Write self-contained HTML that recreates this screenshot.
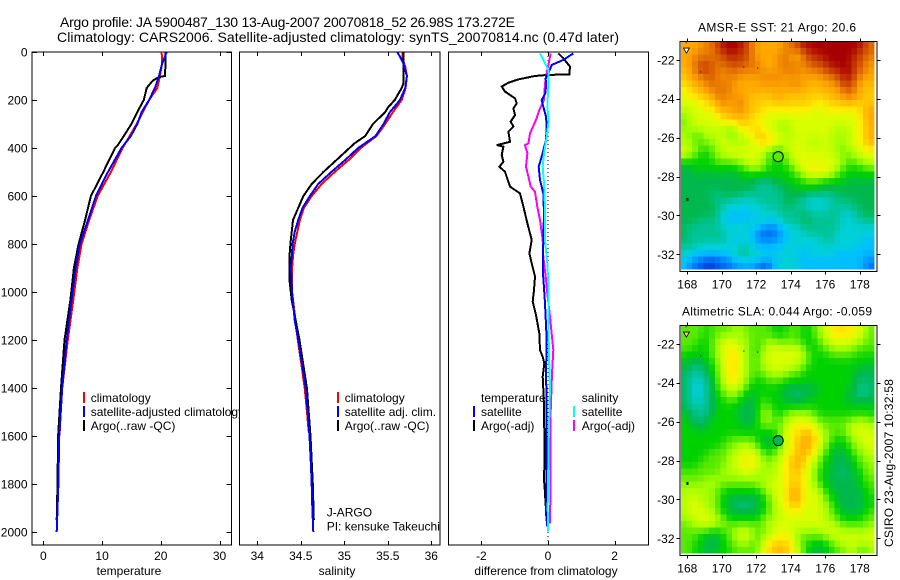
<!DOCTYPE html>
<html lang="en">
<head>
<meta charset="utf-8">
<title>Argo profile</title>
<style>
html,body{margin:0;padding:0;background:#fff;}
svg{display:block;}
text{font-family:"Liberation Sans",sans-serif;font-size:12px;fill:#000;}
</style>
</head>
<body>
<svg id="chart" xmlns="http://www.w3.org/2000/svg" width="900" height="580" viewBox="0 0 900 580"></svg>
<script>
// ---------- Axis tick data ----------
var depthTicks = [0,200,400,600,800,1000,1200,1400,1600,1800,2000];
var tempTicks = [0,10,20,30];
var salTicks = [34,34.5,35,35.5,36];
var diffTicks = [-2,0,2];
var lonTicks = [168,170,172,174,176,178];
var latTicks = [-22,-24,-26,-28,-30,-32];

// ---------- Temperature profile ----------
var tempClimDepth = [0,50,100,150,200,300,400,500,600,700,800,900,1033,1200,1400,1520,1600];
var tempClim = [20.15,20.2,19.85,19.4,18.0,15.9,13.5,11.5,9.25,7.8,6.5,5.8,5.1,4.15,3.2,2.92,2.75];
var tempSatDepth = [0,50,100,150,200,250,300,350,400,500,600,700,800,900,1033,1200,1400,1600,1800,2000];
var tempSat = [21.0,20.2,19.7,19.0,18.0,16.75,16.0,14.9,13.3,11.0,8.95,7.6,6.2,5.5,4.8,3.97,3.2,2.7,2.55,2.27];
var tempArgoDepth = [0,50,100,105,120,150,200,250,300,350,390,400,500,600,700,800,900,1033,1200,1400,1600,1800,1950];
var tempArgo = [20.8,20.8,20.7,19.6,18.6,17.6,17.1,16.0,15.0,13.7,12.6,12.2,10.2,8.1,7.1,6.0,5.2,4.6,3.6,3.0,2.5,2.4,2.27];

// ---------- Salinity profile ----------
var salClimDepth = [0,30,60,100,150,200,250,300,350,400,450,500,550,600,650,700,750,800,850,900,1000,1200,1311,1400,1505,1580];
var salClim = [35.67,35.67,35.70,35.72,35.705,35.66,35.56,35.47,35.37,35.19,35.05,34.89,34.74,34.625,34.535,34.49,34.46,34.43,34.41,34.40,34.40,34.465,34.51,34.545,34.572,34.59];
var salSatDepth = [0,20,50,100,150,200,250,300,350,400,450,500,550,600,650,700,750,800,900,1000,1117,1200,1311,1400,1505,1600,1728,1800,1895,2000];
var salSat = [35.61,35.64,35.68,35.72,35.70,35.64,35.525,35.45,35.36,35.16,35.01,34.85,34.70,34.605,34.52,34.47,34.43,34.406,34.387,34.40,34.43,34.47,34.52,34.555,34.58,34.6,34.617,34.625,34.632,34.644];
var salArgoDepth = [0,100,130,150,200,230,250,300,350,380,400,450,500,550,600,650,700,750,800,850,950,1033,1200,1400,1600,1800,1950];
var salArgo = [35.68,35.68,35.68,35.66,35.58,35.505,35.47,35.33,35.24,35.12,35.06,34.91,34.76,34.625,34.53,34.47,34.41,34.395,34.38,34.37,34.37,34.395,34.485,34.57,34.612,34.638,34.65];

// ---------- Differences from climatology ----------
var diffTempSatDepth = [6,33,54,89,110,144,172,200,228,269,311,367,436,478,533,589,672,783,922,1047,1200,1339,1478,1756,1922,1978];
var diffTempSat = [0.76,0.46,0.11,0.01,-0.07,-0.06,-0.08,-0.19,-0.14,-0.06,-0.04,-0.06,-0.19,-0.28,-0.24,-0.14,-0.12,-0.14,-0.15,-0.09,-0.04,-0.06,-0.04,-0.04,-0.06,-0.02];
var diffTempArgoDepth = [6,26,61,93,96,100,114,128,144,165,193,214,235,263,290,311,332,374,388,394,429,457,478,499,561,589,644,714,783,839,881,936,992,1040,1096,1172,1242,1270,1297,1353,1436,1519,1575,1672,1783,1818,1930];
var diffTempArgo = [0.31,0.46,0.66,0.64,-0.04,-0.4,-0.89,-1.19,-1.39,-1.29,-0.99,-0.94,-1.04,-0.99,-1.12,-1.04,-1.19,-1.14,-1.54,-1.34,-1.39,-1.34,-1.46,-1.29,-1.14,-0.84,-0.74,-0.62,-0.49,-0.56,-0.49,-0.39,-0.42,-0.46,-0.36,-0.26,-0.24,-0.16,-0.11,-0.16,-0.13,-0.12,-0.11,-0.10,-0.12,-0.10,-0.05];
var diffSalSatDepth = [6,47,75,144,228,283,353,422,478,547,644,783,881,992,1089,1270,1394,1617,1894,1998];
var diffSalSat = [-0.24,-0.09,0.01,0.01,-0.02,0.02,-0.04,-0.12,-0.16,-0.12,-0.09,-0.09,-0.02,0.02,0.01,0.03,0.06,0.02,-0.01,0];
var diffSalArgoDepth = [6,75,131,200,242,283,339,381,388,422,478,519,561,582,644,700,783,853,936,1006,1103,1200,1242,1339,1422,1547,1756,1964];
var diffSalArgo = [0.08,-0.02,-0.09,-0.12,-0.26,-0.36,-0.54,-0.59,-0.69,-0.62,-0.66,-0.59,-0.52,-0.39,-0.32,-0.24,-0.16,-0.14,-0.07,-0.02,0.06,0.13,0.16,0.12,0.1,0.07,0.08,0.06];

// ---------- Map colour levels (rows north to south) ----------
var mapPalette = ['#0030d0','#0060f0','#0090ff','#00bfff','#00d0d8','#00c496','#00b84c','#00d200','#58ea00','#a4ff00','#d8ff00','#ffee00','#ffca00','#ffa800','#e87a00','#c84000','#a80000'];
var sstLevels = [
[13,13,13,13,14,14,15,16,16,16,16,15,14,13,13,13,13,13,14,14,15,16,16,16,16,16,16,16,16,16,16,16,15,14],
[13,13,13,14,14,14,15,15,16,16,15,15,14,13,13,13,13,13,14,14,14,15,15,16,16,16,16,16,16,16,16,15,15,14],
[13,13,14,14,14,14,14,15,15,15,15,15,14,13,13,13,13,14,14,13,12,14,15,15,15,16,16,16,16,16,15,15,14,14],
[13,13,14,15,15,15,14,14,15,15,15,14,14,14,13,13,13,14,14,14,14,14,14,15,15,15,16,16,16,16,15,15,14,13],
[12,13,14,15,15,14,14,14,14,14,14,14,14,14,13,13,13,13,14,14,14,13,14,14,14,15,15,15,16,16,15,14,14,13],
[12,13,13,14,14,15,14,13,14,14,13,13,13,13,14,14,14,14,13,13,13,13,13,13,13,14,14,15,15,16,15,14,13,13],
[11,12,13,13,14,14,14,14,14,13,13,13,13,13,13,13,13,13,13,14,14,13,13,13,13,13,13,14,15,15,14,13,12,13],
[11,11,12,13,13,14,14,14,14,13,13,13,13,13,13,13,13,13,13,13,13,13,12,12,12,13,13,13,14,15,14,13,12,12],
[10,11,11,12,12,13,14,14,13,14,13,13,12,12,12,12,13,13,12,12,12,12,12,12,12,12,12,13,13,14,13,13,12,12],
[10,10,10,11,11,12,13,14,13,13,14,13,12,12,12,11,12,12,12,12,12,12,12,11,11,11,12,12,12,13,12,12,12,12],
[9,10,10,10,11,11,12,13,13,13,14,13,12,12,11,11,11,11,11,11,11,11,11,10,10,11,11,11,11,11,11,11,13,13],
[9,9,10,10,10,10,11,12,12,13,13,12,12,11,11,10,10,10,10,10,10,10,10,10,10,10,10,10,10,10,10,11,13,13],
[8,9,10,10,10,10,10,11,11,11,12,12,11,11,10,10,10,9,9,10,10,10,10,10,10,10,10,10,10,10,10,11,12,13],
[9,9,9,9,10,10,9,9,8,8,11,11,11,12,11,10,10,9,9,10,10,10,10,10,10,10,10,9,9,10,10,11,12,13],
[9,9,8,8,9,9,10,10,9,9,10,10,11,12,12,11,10,10,9,9,10,10,10,10,10,10,9,9,9,9,10,11,12,13],
[9,9,8,8,9,9,9,10,9,9,9,9,10,11,12,12,11,10,10,10,10,10,9,9,9,10,10,9,9,10,10,11,12,13],
[10,10,9,8,7,8,9,10,10,10,10,10,10,10,10,9,8,8,9,10,10,10,10,10,10,10,9,9,8,9,10,10,11,11],
[10,9,8,7,7,8,9,9,10,10,10,10,10,10,9,8,7,7,9,10,10,10,10,10,10,10,10,9,9,8,9,10,10,10],
[7,7,7,7,7,7,8,8,8,8,9,10,10,10,9,8,7,7,8,9,10,11,10,10,10,10,10,10,9,8,8,9,9,10],
[6,6,7,7,7,7,7,7,7,7,7,8,9,9,8,7,7,7,7,8,9,10,11,11,11,11,10,9,8,7,7,7,8,8],
[6,6,6,6,6,6,6,6,6,6,7,7,7,7,7,7,7,7,7,7,8,9,10,10,10,10,9,8,7,7,7,7,7,7],
[6,6,6,6,6,6,6,6,6,6,6,6,6,5,5,5,6,6,7,7,7,7,8,8,7,7,7,7,7,6,6,6,6,6],
[6,6,6,6,6,6,6,6,6,6,6,6,6,5,5,5,5,6,6,6,7,7,7,7,7,6,6,6,6,6,6,6,6,6],
[6,6,6,6,6,5,5,6,6,6,6,5,5,5,5,5,5,5,6,6,6,6,5,5,5,5,5,6,6,6,6,6,6,6],
[6,6,6,6,6,6,5,5,5,4,4,4,4,5,5,5,5,5,6,6,5,5,4,4,4,4,5,5,5,5,6,6,6,6],
[6,6,6,6,6,6,5,5,4,4,4,4,4,4,4,5,5,5,6,5,5,5,4,4,4,4,5,5,5,5,5,6,6,6],
[6,6,6,6,6,6,5,4,3,3,3,3,3,4,4,4,4,5,5,5,5,6,5,5,5,5,5,5,4,4,5,5,6,6],
[6,6,6,5,5,5,5,4,3,3,3,3,4,4,4,4,3,4,5,5,5,6,6,5,5,5,5,5,4,4,4,5,5,5],
[6,5,5,5,5,5,5,4,4,4,5,4,4,3,2,2,2,3,4,4,4,5,5,5,5,5,5,5,4,4,4,4,4,4],
[6,5,5,5,5,5,5,5,4,4,4,4,3,2,1,1,1,2,3,4,4,4,5,5,5,5,5,4,4,4,4,4,4,4],
[6,5,5,5,5,5,5,5,4,3,3,4,3,2,2,2,2,3,3,4,4,4,4,4,4,5,5,4,4,4,4,4,3,3],
[5,5,5,4,4,4,4,4,4,4,5,5,4,3,3,3,3,3,4,4,4,4,3,4,4,4,4,4,4,4,4,3,3,3],
[4,4,3,3,3,3,3,3,4,4,5,5,4,4,4,3,4,4,4,4,3,3,4,4,4,4,4,3,3,3,3,3,3,3],
[4,3,2,2,1,1,1,2,2,3,4,4,4,4,3,3,3,4,4,4,4,3,3,3,3,3,3,3,3,3,3,3,2,2],
[3,2,1,1,0,0,1,1,1,2,2,2,2,1,0,1,3,4,4,4,4,3,3,3,3,3,3,3,3,3,3,3,2,1]
];
var slaLevels = [
[8,8,8,8,7,8,8,8,8,9,9,8,8,8,8,8,7,7,7,8,8,7,7,8,9,10,11,11,12,11,11,10,9,8],
[8,8,8,8,7,8,8,9,9,9,9,9,8,8,8,8,7,7,8,8,8,7,7,8,9,10,11,11,11,11,10,10,9,8],
[8,8,8,7,7,8,9,10,10,10,9,9,8,8,8,9,9,8,8,8,8,7,7,7,8,9,10,10,10,10,10,9,8,8],
[8,8,7,7,7,8,9,10,11,11,10,9,8,7,9,10,10,10,10,10,10,9,7,7,8,8,9,9,9,9,8,8,8,8],
[7,7,7,7,7,8,9,10,11,11,10,9,8,8,9,10,10,10,10,10,10,9,8,7,7,7,8,8,8,8,8,7,7,7],
[7,6,6,6,7,7,9,10,11,12,10,9,8,8,9,10,10,10,10,10,10,9,8,7,7,7,7,7,7,7,7,7,7,7],
[6,6,5,5,6,7,8,10,11,12,10,9,8,8,9,10,10,10,10,9,9,8,7,7,7,7,7,7,7,7,7,6,6,6],
[6,5,5,5,6,7,8,10,11,11,10,9,8,8,8,9,9,9,9,8,8,7,7,7,7,7,7,7,7,7,6,6,6,6],
[6,5,4,4,5,6,8,9,11,11,10,9,7,7,7,8,8,8,7,7,7,7,7,7,7,7,7,7,7,7,6,6,5,6],
[6,5,4,4,5,6,8,9,10,10,9,8,7,7,7,7,7,7,6,6,6,6,6,6,7,7,7,7,7,7,6,5,5,6],
[6,5,4,4,5,6,7,8,9,9,8,7,6,7,7,7,7,6,6,6,5,6,6,6,7,7,7,7,7,6,6,5,5,6],
[6,5,4,4,5,6,7,7,8,8,7,6,6,7,8,7,7,7,6,6,6,6,7,7,7,7,7,7,7,6,6,6,6,6],
[6,5,5,5,5,6,7,7,7,7,6,6,6,7,8,8,7,7,7,7,7,7,7,7,7,7,7,7,7,7,7,7,7,7],
[7,6,5,5,5,6,7,7,7,7,6,6,6,7,9,9,7,7,8,9,9,9,9,8,7,7,7,7,7,7,7,7,7,7],
[7,6,6,5,6,7,7,7,7,7,6,6,6,7,9,9,8,8,9,10,10,10,10,9,8,8,8,8,8,8,9,9,9,8],
[7,7,6,6,6,7,7,7,7,7,7,6,7,7,8,8,8,8,10,10,11,11,11,10,9,8,8,8,8,9,10,10,10,9],
[7,7,7,7,7,7,7,7,7,7,7,7,7,7,7,7,7,9,10,11,11,12,13,11,10,9,8,8,8,9,10,10,10,10],
[7,7,7,7,7,7,7,7,8,8,8,8,8,7,6,6,6,8,10,11,12,13,13,12,10,9,8,7,7,8,9,10,10,10],
[7,7,7,7,7,7,7,8,8,9,9,10,9,8,7,6,7,8,10,11,12,13,13,11,10,8,7,6,7,7,9,9,10,10],
[7,7,7,7,7,8,8,8,9,9,10,10,10,9,8,7,8,9,10,11,12,13,12,11,9,8,7,6,6,7,8,9,9,10],
[7,7,7,7,8,8,8,8,9,10,10,11,11,10,9,8,9,10,11,12,13,12,11,10,8,7,6,6,6,6,7,8,9,9],
[7,7,7,8,8,8,8,9,9,10,10,11,11,10,9,9,9,10,11,12,13,12,10,9,8,7,6,6,6,6,7,8,8,9],
[8,8,8,8,8,8,8,9,9,9,10,10,10,9,9,9,9,10,11,12,12,11,10,9,7,7,6,6,5,6,6,7,8,9],
[8,8,8,8,9,9,9,9,9,9,9,9,9,9,9,9,10,10,11,12,12,11,10,9,7,6,6,6,6,6,6,7,8,8],
[9,9,9,9,9,9,9,8,8,8,8,8,8,9,9,10,10,10,11,12,12,11,10,9,8,7,6,6,6,6,6,7,7,8],
[9,9,9,9,9,9,8,7,7,7,7,7,7,7,8,9,10,10,11,13,13,11,10,10,9,7,7,6,6,6,6,6,7,8],
[9,10,10,9,9,9,8,7,6,6,6,6,6,6,7,8,10,10,11,13,13,11,10,10,10,8,7,6,6,6,6,6,7,7],
[9,10,10,10,9,9,8,7,6,6,5,5,6,6,7,8,9,10,11,12,12,11,10,10,10,9,8,7,6,6,6,6,7,7],
[9,10,10,10,10,9,8,7,6,6,6,6,6,6,7,8,9,10,10,11,11,10,10,10,10,9,8,7,6,6,6,6,7,8],
[9,9,10,10,10,10,9,8,7,7,7,7,7,7,8,9,9,10,10,10,10,10,10,10,10,9,9,8,7,7,7,7,8,8],
[8,9,9,10,10,10,9,9,8,8,8,8,8,8,9,9,10,10,10,10,10,10,10,10,10,10,9,9,8,8,8,8,8,9],
[8,8,8,8,8,7,7,8,8,9,10,10,9,8,8,9,10,10,10,10,9,9,9,9,9,10,10,10,9,9,9,9,9,10],
[8,8,8,7,6,6,6,7,8,9,10,10,9,8,9,10,10,11,11,10,9,8,8,8,8,9,9,10,10,10,10,10,10,10],
[8,8,7,7,6,6,6,7,8,8,9,9,8,8,10,11,12,12,12,11,9,8,7,7,6,7,8,9,9,10,10,9,9,10],
[8,8,7,7,6,6,7,7,7,8,8,8,8,9,10,12,12,13,12,11,10,8,7,6,6,7,7,8,8,9,9,8,8,9]
];
var profileLon = [173.272];
var profileLat = [-26.98];

// ---------- Scales ----------
var NS = 'http://www.w3.org/2000/svg';
var svg = document.getElementById('chart');
var P1 = {x0:32, x1:231.5};
var P2 = {x0:239.5, x1:440};
var P3 = {x0:448.5, x1:648.5};
var PTOP = 52, PBOT = 545;
function yDepth(d){ return 52 + d * 0.24; }
function xTemp(t){ return 43.4 + t * 5.87; }
function xSal(s){ return 257.3 + (s - 34) * 87; }
function xDiff(v){ return 548 + v * 33.3; }
function xLon(lon){ return 687.3 + (lon - 168) * 17.25; }
function yLat(lat, top){ return top + 18.3 + (-22 - lat) * 19.45; }

function mk(tag, parent){
  var el = document.createElementNS(NS, tag);
  (parent || svg).appendChild(el);
  return el;
}
function rule(parent, x1, y1, x2, y2, name){
  var el = mk('line', parent);
  
  
  el.setAttribute('x1', x1);
  el.setAttribute('y1', y1);
  el.setAttribute('x2', x2);
  el.setAttribute('y2', y2);
  el.setAttribute('stroke', '#000');
  el.setAttribute('stroke-width', '1');
  el.setAttribute('shape-rendering', 'crispEdges');
  return el;
}
function label(parent, str, x, y, anchor, name){
  var el = mk('text', parent);
  
  
  el.setAttribute('x', x);
  el.setAttribute('y', y);
  el.setAttribute('text-anchor', anchor || 'start');
  el.textContent = str;
  return el;
}
function series(parent, xs, depths, xf, color, name){
  var pts = [];
  for (var i = 0; i < xs.length; i++) {
    pts.push(xf(xs[i]).toFixed(1) + ',' + yDepth(depths[i]).toFixed(1));
  }
  var el = mk('polyline', parent);
  
  
  el.setAttribute('points', pts.join(' '));
  el.setAttribute('fill', 'none');
  el.setAttribute('stroke', color);
  el.setAttribute('stroke-width', '2');
  el.setAttribute('shape-rendering', 'crispEdges');
  return el;
}
function legendEntry(parent, x, textX, y, color, str, name){
  if (color) {
    var bar = mk('rect', parent);
    
    
    bar.setAttribute('x', x);
    bar.setAttribute('y', y - 10);
    bar.setAttribute('width', 2);
    bar.setAttribute('height', 11);
    bar.setAttribute('fill', color);
  }
  label(parent, str, textX, y, 'start', name);
}
function panel(p, name, xTicks, xf, fmt, xTitle, xTitleX){
  var g = mk('g');
  
  
  var bg = mk('rect', g);
  
  
  bg.setAttribute('x', p.x0);
  bg.setAttribute('y', PTOP);
  bg.setAttribute('width', p.x1 - p.x0);
  bg.setAttribute('height', PBOT - PTOP);
  bg.setAttribute('fill', '#fff');
  bg.setAttribute('stroke', '#000');
  bg.setAttribute('stroke-width', '1');
  bg.setAttribute('shape-rendering', 'crispEdges');
  xTicks.forEach(function(t){
    var x = Math.round(xf(t)) + 0.5;
    rule(g, x, PTOP, x, PTOP + 4, name + '-top-tick');
    rule(g, x, PBOT, x, PBOT - 4, name + '-bottom-tick');
    label(g, fmt ? fmt(t) : String(t), xf(t), 560, 'middle', name + '-x-tick-label');
  });
  label(g, xTitle, xTitleX, 575, 'middle', name + '-x-axis-title');
  return g;
}

// ---------- Temperature panel ----------
var g1 = panel(P1, 'temperature-panel', tempTicks, xTemp, null, 'temperature', 129);
depthTicks.forEach(function(d){
  var y = Math.round(yDepth(d)) + 0.5;
  rule(g1, P1.x0, y, P1.x0 + 5, y, 'depth-left-tick');
  rule(g1, P1.x1 - 5, y, P1.x1, y, 'depth-right-tick');
  label(g1, String(d), 27.5, yDepth(d) + 4.5, 'end', 'depth-tick-label');
});
series(g1, tempClim, tempClimDepth, xTemp, '#ff0000', 'temperature-climatology-line');
series(g1, tempArgo, tempArgoDepth, xTemp, '#000000', 'temperature-argo-line');
series(g1, tempSat, tempSatDepth, xTemp, '#0000ff', 'temperature-satellite-line');
legendEntry(g1, 83, 90.7, 402, '#ff0000', 'climatology', 'legend-temperature-climatology');
legendEntry(g1, 83, 90.7, 416, '#0000ff', 'satellite-adjusted climatology', 'legend-temperature-satellite');
legendEntry(g1, 83, 90.7, 430, '#000000', 'Argo(..raw -QC)', 'legend-temperature-argo');

// ---------- Salinity panel ----------
var g2 = panel(P2, 'salinity-panel', salTicks, xSal, null, 'salinity', 337);
series(g2, salClim, salClimDepth, xSal, '#ff0000', 'salinity-climatology-line');
series(g2, salArgo, salArgoDepth, xSal, '#000000', 'salinity-argo-line');
series(g2, salSat, salSatDepth, xSal, '#0000ff', 'salinity-satellite-line');
legendEntry(g2, 337, 344.7, 402, '#ff0000', 'climatology', 'legend-salinity-climatology');
legendEntry(g2, 337, 344.7, 416, '#0000ff', 'satellite adj. clim.', 'legend-salinity-satellite');
legendEntry(g2, 337, 344.7, 430, '#000000', 'Argo(..raw -QC)', 'legend-salinity-argo');
label(g2, 'J-ARGO', 326.7, 516.7, 'start', 'program-label');
label(g2, 'PI: kensuke Takeuchi', 326.7, 530.7, 'start', 'principal-investigator-label');

// ---------- Difference panel ----------
var g3 = panel(P3, 'difference-panel', diffTicks, xDiff, null, 'difference from climatology', 546);
var zero = rule(g3, xDiff(0), PTOP, xDiff(0), 542, 'zero-reference-line');
zero.setAttribute('stroke-dasharray', '1 3');
series(g3, diffTempArgo, diffTempArgoDepth, xDiff, '#000000', 'difference-temperature-argo-line');
series(g3, diffSalArgo, diffSalArgoDepth, xDiff, '#ff00ff', 'difference-salinity-argo-line');
series(g3, diffTempSat, diffTempSatDepth, xDiff, '#0000ff', 'difference-temperature-satellite-line');
series(g3, diffSalSat, diffSalSatDepth, xDiff, '#00ffff', 'difference-salinity-satellite-line');
legendEntry(g3, 473, 481, 402, null, 'temperature', 'legend-difference-temperature-heading');
legendEntry(g3, 473, 481, 416, '#0000ff', 'satellite', 'legend-difference-temperature-satellite');
legendEntry(g3, 473, 481, 430, '#000000', 'Argo(-adj)', 'legend-difference-temperature-argo');
legendEntry(g3, 573, 581.7, 402, null, 'salinity', 'legend-difference-salinity-heading');
legendEntry(g3, 573, 581.7, 416, '#00ffff', 'satellite', 'legend-difference-salinity-satellite');
legendEntry(g3, 573, 581.7, 430, '#ff00ff', 'Argo(-adj)', 'legend-difference-salinity-argo');

// ---------- Maps ----------
function paletteColor(level){
  var lo = Math.max(0, Math.min(mapPalette.length - 1, Math.floor(level)));
  var hi = Math.min(mapPalette.length - 1, lo + 1);
  var f = Math.max(0, Math.min(1, level - lo));
  var parts = [];
  for (var k = 0; k < 3; k++) {
    var a = parseInt(mapPalette[lo].substr(1 + k * 2, 2), 16);
    var b = parseInt(mapPalette[hi].substr(1 + k * 2, 2), 16);
    parts.push(Math.round(a + (b - a) * f));
  }
  return 'rgb(' + parts.join(',') + ')';
}
// Rendered colour softens each cell slightly with its neighbours, as the source image does.
function softLevel(levels, r, c){
  var sum = 0, wsum = 0;
  for (var dr = -1; dr <= 1; dr++) {
    for (var dc = -1; dc <= 1; dc++) {
      var row = levels[r + dr];
      if (!row || row[c + dc] === undefined) continue;
      var w = (dr === 0 ? 2 : 1) * (dc === 0 ? 2 : 1);
      sum += row[c + dc] * w;
      wsum += w;
    }
  }
  return sum / wsum;
}
function drawMap(levels, top, name, markerColor){
  var g = mk('g');
  
  
  var startLon = 167.62, startLat = -21.05, lonStep = 0.33, latStep = 0.335;
  for (var r = 0; r < levels.length; r++) {
    for (var c = 0; c < levels[r].length; c++) {
      var cell = mk('rect', g);
      
      
      var x0 = xLon(startLon + c * lonStep), x1 = xLon(startLon + (c + 1) * lonStep);
      var y0 = yLat(startLat - r * latStep, top), y1 = yLat(startLat - (r + 1) * latStep, top);
      cell.setAttribute('x', x0.toFixed(2));
      cell.setAttribute('y', y0.toFixed(2));
      cell.setAttribute('width', (x1 - x0 + 0.3).toFixed(2));
      cell.setAttribute('height', (y1 - y0 + 0.3).toFixed(2));
      cell.setAttribute('fill', paletteColor(softLevel(levels, r, c)));
      cell.setAttribute('shape-rendering', 'crispEdges');
    }
  }
  // land specks
  var specks = [[167.9,-21.1],[168.75,-22.6],[171.25,-22.35],[172.05,-22.4],[167.95,-29.1]];
  specks.forEach(function(s){
    var d = mk('rect', g);
    
    
    d.setAttribute('x', xLon(s[0]));
    d.setAttribute('y', yLat(s[1], top));
    d.setAttribute('width', s[1] < -29 ? 2 : 1);
    d.setAttribute('height', s[1] < -29 ? 3 : 1);
    d.setAttribute('fill', '#000');
  });
  var cx = xLon(167.95), cy = yLat(-21.5, top);
  var coast = mk('polygon', g);
  
  
  coast.setAttribute('points', (cx-3)+','+(cy-2)+' '+(cx+3)+','+(cy-2)+' '+cx+','+(cy+3));
  coast.setAttribute('fill', markerColor === '#58ea00' ? '#fff' : '#ffc8a0');
  coast.setAttribute('stroke', '#000');
  coast.setAttribute('stroke-width', '0.8');

  var frame = mk('rect', g);
  
  
  frame.setAttribute('x', 680);
  frame.setAttribute('y', top);
  frame.setAttribute('width', 197);
  frame.setAttribute('height', 230);
  frame.setAttribute('fill', 'none');
  frame.setAttribute('stroke', '#000');
  frame.setAttribute('stroke-width', '1');
  frame.setAttribute('shape-rendering', 'crispEdges');
  lonTicks.forEach(function(lon){
    var x = Math.round(xLon(lon)) + 0.5;
    rule(g, x, top - 3, x, top, name + '-top-tick');
    rule(g, x, top + 230, x, top + 233, name + '-bottom-tick');
    label(g, String(lon), xLon(lon), top + 247, 'middle', name + '-longitude-label');
  });
  latTicks.forEach(function(lat){
    var y = Math.round(yLat(lat, top)) + 0.5;
    rule(g, 676.5, y, 680, y, name + '-left-tick');
    rule(g, 877, y, 880.5, y, name + '-right-tick');
    label(g, String(lat), 674.5, yLat(lat, top) + 4.5, 'end', name + '-latitude-label');
  });
  var c0 = mk('circle', g);
  
  
  c0.setAttribute('cx', xLon(profileLon[0]));
  c0.setAttribute('cy', yLat(profileLat[0], top));
  c0.setAttribute('r', 5);
  c0.setAttribute('fill', markerColor);
  c0.setAttribute('stroke', '#000');
  c0.setAttribute('stroke-width', '1');
}
drawMap(sstLevels, 41.5, 'sst-map', '#58ea00');
drawMap(slaLevels, 325.5, 'sla-map', '#00b84c');

// ---------- Titles ----------
var t1 = label(svg, 'Argo profile: JA 5900487_130 13-Aug-2007 20070818_52 26.98S 173.272E', 60, 27, 'start', 'figure-title-line-1');
t1.setAttribute('style', 'font-size:14px');
t1.setAttribute('textLength', '455');
var t2 = label(svg, 'Climatology: CARS2006. Satellite-adjusted climatology: synTS_20070814.nc (0.47d later)', 57, 42, 'start', 'figure-title-line-2');
t2.setAttribute('style', 'font-size:14px');
t2.setAttribute('textLength', '562');
var t3 = label(svg, 'AMSR-E SST: 21 Argo: 20.6', 698, 31.5, 'start', 'sst-map-title');
t3.setAttribute('textLength', '158');
var t4 = label(svg, 'Altimetric SLA: 0.044 Argo: -0.059', 682, 315.5, 'start', 'sla-map-title');
t4.setAttribute('textLength', '190');
var t5 = label(svg, 'CSIRO 23-Aug-2007 10:32:58', 0, 0, 'start', 'timestamp-credit');
t5.setAttribute('transform', 'translate(893,547) rotate(-90)');
t5.setAttribute('textLength', '168');
</script>
</body>
</html>
